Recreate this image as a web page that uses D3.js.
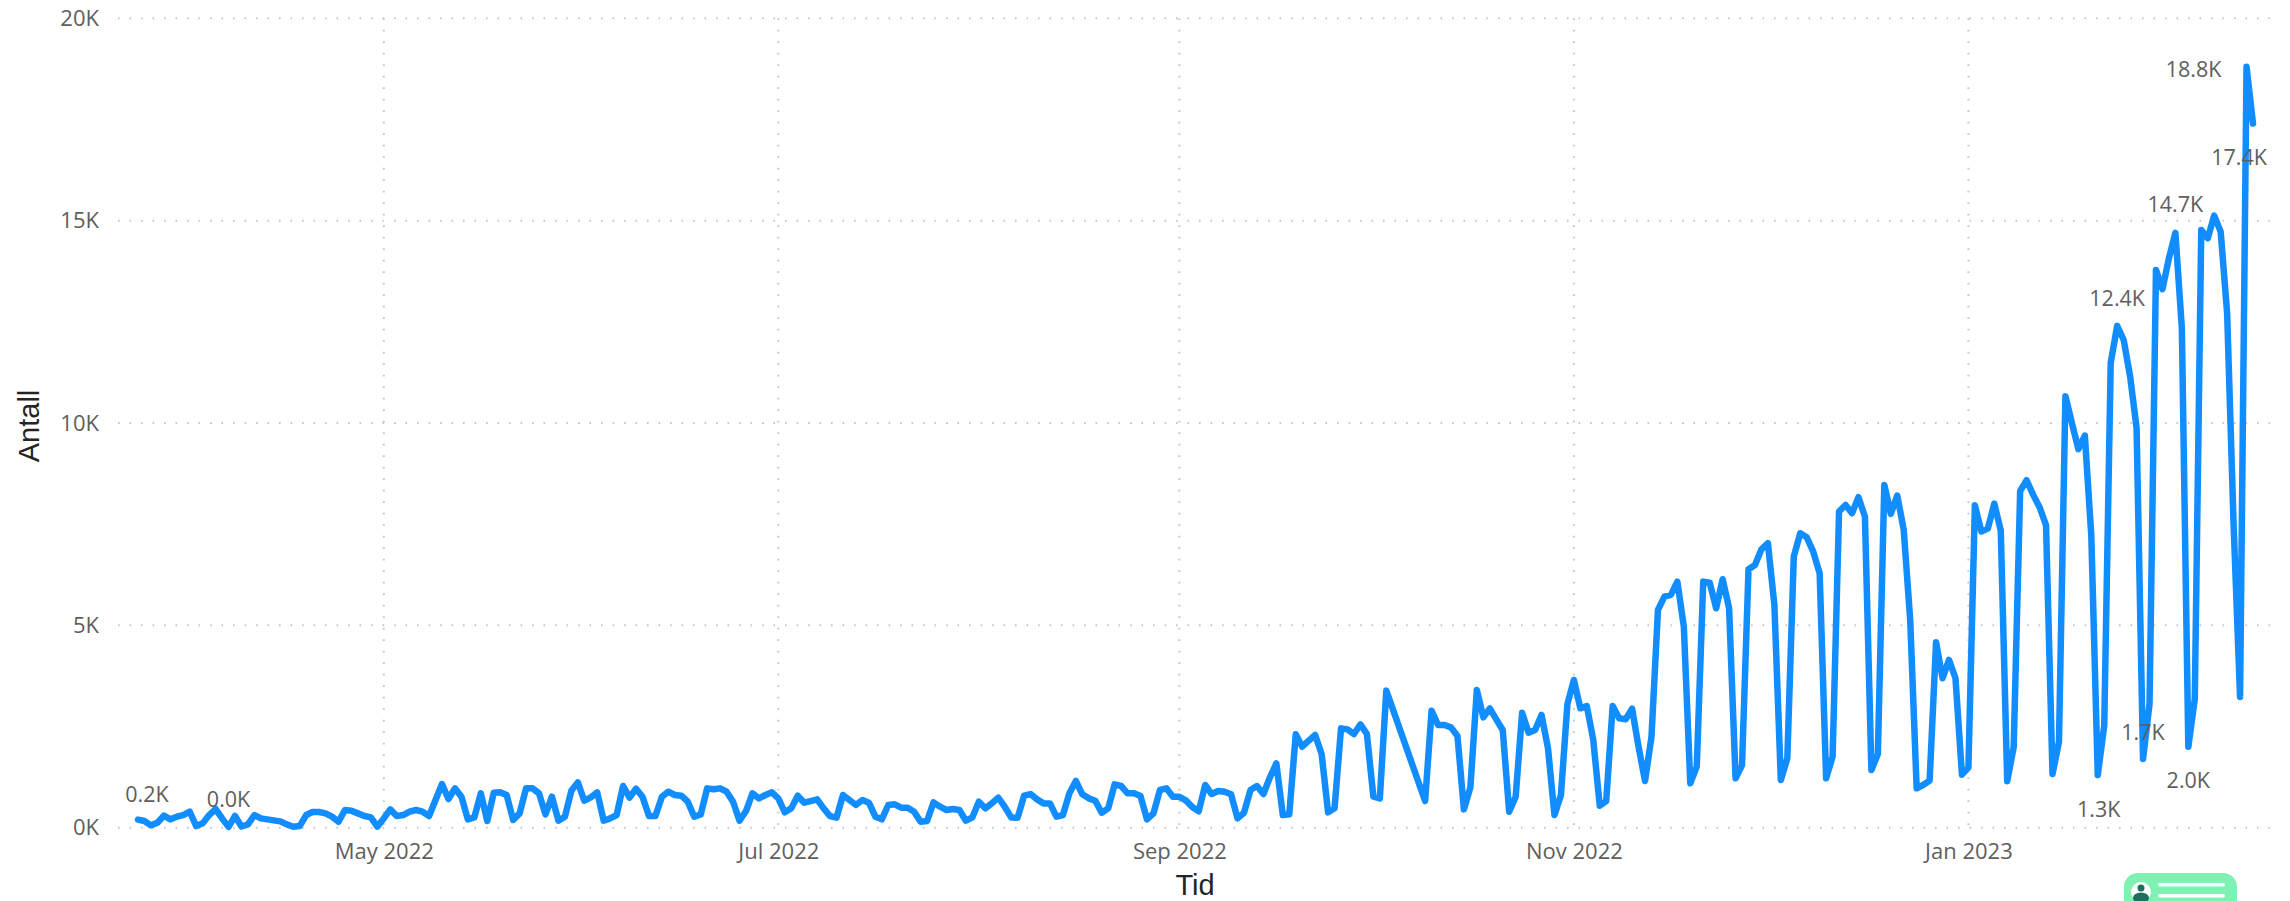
<!DOCTYPE html>
<html lang="no">
<head>
<meta charset="utf-8">
<title>Antall per dag</title>
<script src="https://cdn.jsdelivr.net/npm/d3@7/dist/d3.min.js"></script>
<style>
  html, body { margin: 0; background: #fff; }
  svg { display: block; }
  .tick-label { font-family: "Open Sans", sans-serif; font-size: 22px; fill: #605E5C; }
  .axis-title { font-family: "Liberation Sans", sans-serif; font-size: 29px; fill: #252423; }
  .data-label { font-family: "Open Sans", sans-serif; font-size: 21.5px; fill: #605E5C; }
</style>
</head>
<body>
<svg id="chart" width="2290" height="901"></svg>
<script>
// First day of the daily series
const firstDay = "2022-03-24";

// Daily counts; null marks a day with no reading
const dailyCounts = [
  200,165,58,124,297,206,272,313,395,40,107,313,461,230,20,290,30,82,313,230,
  206,181,157,82,25,40,313,387,387,354,272,148,437,420,354,288,255,25,230,453,
  288,313,395,437,395,288,684,1080,709,972,766,206,255,849,165,865,873,808,190,354,
  972,972,849,330,766,173,272,915,1120,667,750,873,173,230,313,1030,742,964,766,288,
  288,766,890,808,791,643,272,330,972,948,972,890,643,173,412,849,725,808,873,725,
  379,478,791,618,659,700,478,288,247,808,684,560,684,618,272,206,560,577,494,494,
  395,148,165,626,519,437,461,437,173,255,643,478,601,742,519,255,247,791,832,700,
  601,601,272,313,849,1154,824,725,667,371,478,1071,1030,849,849,783,206,354,931,972,
  766,766,675,512,406,1055,832,906,890,824,231,371,931,1030,832,1240,1590,313,330,2307,
  2002,2150,2290,1821,379,478,2455,2430,2315,2554,2315,766,725,3387,null,null,null,null,null,659,
  2892,2538,2538,2480,2266,453,997,3403,2727,2950,2678,2414,396,766,2843,2348,2414,2785,1961,313,
  807,3057,3650,2950,3007,2167,544,659,3007,2703,2678,2942,2002,1154,2250,5381,5710,5752,6081,4969,
  1096,1508,6081,6056,5422,6139,5422,1220,1549,6386,6493,6880,7029,5504,1178,1714,6699,7276,7177,6823,
  6287,1220,1755,7812,7976,7770,8166,7688,1425,1821,8471,7754,8207,7358,5134,972,1055,1162,4581,3692,
  4145,3692,1310,1487,7965,7319,7390,8009,7345,1150,1991,8319,8585,8230,7920,7478,1327,2124,10664,10000,
  9354,9690,7212,1300,2522,11487,12400,12057,11153,9879,1700,3053,13783,13307,14071,14700,12345,2000,3186,14770,
  14564,15123,14729,12715,7500,3230,18800,17400
];

// Y axis
const countTicks = [0, 5000, 10000, 15000, 20000];
const countDomain = [0, 20000];

// X axis month marks
const monthTicks = ["2022-05-01", "2022-07-01", "2022-09-01", "2022-11-01", "2023-01-01"];

// Days carrying a value label, and where each label sits around its point
const labelledDays = [0, 14, 303, 306, 310, 315, 317, 326, 327];
const labelOffsetX = [9, 0, 1, 0, 0, 0, 0, -53, -14];
const labelOffsetY = [-26, -28, 33, -28, -27, -29, 33, 2, 33];

const DAY = 864e5;
const parseDay = d3.utcParse("%Y-%m-%d");
const start = parseDay(firstDay);
const dateOf = i => new Date(+start + i * DAY);

const series = dailyCounts
  .map((value, i) => ({ i, date: dateOf(i), value }))
  .filter(d => d.value !== null);

const x = d3.scaleUtc()
  .domain([start, dateOf(dailyCounts.length - 1)])
  .range([138, 2253]);
const y = d3.scaleLinear().domain(countDomain).range([827.7, 18.3]);

const plotLeft = 118, plotRight = 2270;
const svg = d3.select("#chart");

// Dotted gridlines
const gridStyle = sel => sel
  .attr("stroke", "#c6c6c6")
  .attr("stroke-width", 2)
  .attr("stroke-dasharray", "1.6 9.9")
  .attr("fill", "none");

svg.append("g").selectAll("line").data(countTicks).join("line")
  .attr("x1", plotLeft).attr("x2", plotRight)
  .attr("y1", d => y(d)).attr("y2", d => y(d))
  .call(gridStyle);

svg.append("g").selectAll("line").data(monthTicks).join("line")
  .attr("x1", d => x(parseDay(d))).attr("x2", d => x(parseDay(d)))
  .attr("y1", y(20000)).attr("y2", y(0) + 5)
  .call(gridStyle);

// Axes: only the tick text is shown
const yAxis = d3.axisLeft(y).tickValues(countTicks).tickSize(0).tickPadding(0)
  .tickFormat(d => (d / 1000) + "K");
const gy = svg.append("g").attr("transform", "translate(99,0)").call(yAxis);
gy.select(".domain").remove();
gy.selectAll("text").attr("class", "tick-label");
gy.attr("font-size", null).attr("font-family", null);

const xAxis = d3.axisBottom(x).tickValues(monthTicks.map(parseDay)).tickSize(0).tickPadding(0)
  .tickFormat(d3.utcFormat("%b %Y"));
const gx = svg.append("g").attr("transform", "translate(0,843)").call(xAxis);
gx.select(".domain").remove();
gx.selectAll("text").attr("class", "tick-label").attr("dy", "0.71em");
gx.attr("font-size", null).attr("font-family", null);

// Axis titles
svg.append("text").attr("class", "axis-title")
  .attr("transform", "translate(29,426) rotate(-90)")
  .attr("text-anchor", "middle").attr("dominant-baseline", "central")
  .text("Antall");
svg.append("text").attr("class", "axis-title")
  .attr("x", 1195).attr("y", 885)
  .attr("text-anchor", "middle").attr("dominant-baseline", "central")
  .text("Tid");

// The daily line
const line = d3.line().x(d => x(d.date)).y(d => y(d.value));
svg.append("path").datum(series)
  .attr("d", line)
  .attr("fill", "none")
  .attr("stroke", "#118DFF")
  .attr("stroke-width", 6.5)
  .attr("stroke-linejoin", "round")
  .attr("stroke-linecap", "round");

// Value labels
const labelText = v => (v / 1000).toFixed(1) + "K";
svg.append("g").selectAll("text").data(labelledDays).join("text")
  .attr("class", "data-label")
  .attr("x", (d, k) => x(dateOf(d)) + labelOffsetX[k])
  .attr("y", (d, k) => y(dailyCounts[d]) + labelOffsetY[k])
  .attr("text-anchor", "middle")
  .attr("dominant-baseline", "central")
  .text(d => labelText(dailyCounts[d]));

// Chat badge in the lower right corner, cut off by the window edge
const badge = svg.append("g");
badge.append("rect")
  .attr("x", 2124).attr("y", 873).attr("width", 113).attr("height", 60).attr("rx", 14)
  .attr("fill", "#7FF2B3");
badge.append("circle").attr("cx", 2141).attr("cy", 892).attr("r", 10).attr("fill", "#fff");
badge.append("circle").attr("cx", 2141).attr("cy", 888).attr("r", 3.5).attr("fill", "#1F6F5C");
badge.append("ellipse").attr("cx", 2141).attr("cy", 898).attr("rx", 8).attr("ry", 5.5).attr("fill", "#1F6F5C");
badge.append("rect").attr("x", 2158).attr("y", 883).attr("width", 67).attr("height", 3.5).attr("rx", 1.75).attr("fill", "#fff");
badge.append("rect").attr("x", 2158).attr("y", 894).attr("width", 67).attr("height", 3.5).attr("rx", 1.75).attr("fill", "#fff");
</script>
</body>
</html>
